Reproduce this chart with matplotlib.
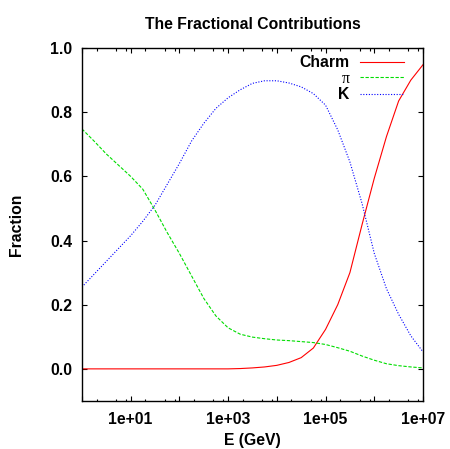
import matplotlib
matplotlib.use('Agg')
import matplotlib.pyplot as plt
from matplotlib.ticker import FixedLocator, FuncFormatter, NullFormatter
import numpy as np

plt.rcParams['font.family'] = ['Liberation Sans', 'DejaVu Sans']
plt.rcParams['font.weight'] = 'bold'
plt.rcParams['font.size'] = 11.3

# log10 of energy in GeV, every quarter decade
log_e = [0.0, 0.25, 0.5, 0.75, 1.0, 1.25, 1.5, 1.75, 2.0, 2.25, 2.5, 2.75, 3.0, 3.25,
         3.5, 3.75, 4.0, 4.25, 4.5, 4.75, 5.0, 5.25, 5.5, 5.75, 6.0, 6.25, 6.5, 6.75, 7.0]

charm = [0.0, 0.0, 0.0, 0.0, 0.0, 0.0, 0.0, 0.0, 0.0, 0.0, 0.0, 0.0, 0.0, 0.001,
         0.003, 0.006, 0.011, 0.02, 0.035, 0.065, 0.123, 0.20, 0.30, 0.45, 0.594, 0.724, 0.835, 0.90, 0.948]
pion = [0.748, 0.71, 0.67, 0.635, 0.60, 0.56, 0.495, 0.425, 0.36, 0.29, 0.22, 0.165, 0.128, 0.108,
        0.099, 0.094, 0.09, 0.088, 0.085, 0.082, 0.076, 0.066, 0.055, 0.04, 0.027, 0.016, 0.01, 0.006, 0.003]
kaon = [0.255, 0.295, 0.335, 0.375, 0.415, 0.46, 0.51, 0.575, 0.64, 0.71, 0.765, 0.812, 0.845, 0.87,
        0.89, 0.898, 0.898, 0.891, 0.879, 0.858, 0.822, 0.745, 0.645, 0.515, 0.36, 0.25, 0.17, 0.103, 0.053]

energy = 10.0 ** np.array(log_e)

fig = plt.figure(figsize=(4.5, 4.49), dpi=100)
ax = fig.add_axes([0.182, 0.107, 0.758, 0.786])

ax.plot(energy, charm, color='#ff0000', lw=0.8, ls='-', label='Charm')
ax.plot(energy, pion, color='#00dd00', lw=0.8, ls=(0, (3, 1.5)), label='π')
ax.plot(energy, kaon, color='#0000ff', lw=0.8, ls=(0, (1, 1.5)), label='K')

ax.set_xscale('log')
ax.set_xlim(1, 1e7)
ax.set_ylim(-0.1, 1.0)

decades = [10.0 ** k for k in range(0, 8)]
ax.xaxis.set_major_locator(FixedLocator(decades))
ax.xaxis.set_major_formatter(FuncFormatter(
    lambda v, p: '%.0e' % v if round(np.log10(v)) % 2 == 1 else ''))
minors = [d * s for d in decades[:-1] for s in (2, 5, 8)]
ax.xaxis.set_minor_locator(FixedLocator(minors))
ax.xaxis.set_minor_formatter(NullFormatter())

ax.set_yticks([0.0, 0.2, 0.4, 0.6, 0.8, 1.0])
ax.yaxis.set_major_formatter(FuncFormatter(lambda v, p: '%.1f' % v))

ax.tick_params(which='both', direction='in', top=True, right=True, width=0.8)
ax.tick_params(which='major', length=3.6)
ax.tick_params(which='minor', length=1.8)
ax.tick_params(axis='x', pad=8)
ax.tick_params(axis='y', pad=7)
for sp in ax.spines.values():
    sp.set_linewidth(1.0)

ax.set_title('The Fractional Contributions', fontsize=11.3, fontweight='bold', pad=14)
ax.set_xlabel('E (GeV)', fontweight='bold', labelpad=4)
ax.set_ylabel('Fraction', fontweight='bold', labelpad=19)

leg = ax.legend(loc='upper right', bbox_to_anchor=(0.943, 0.98), frameon=False,
                markerfirst=False, handlelength=2.8, handletextpad=0.64,
                labelspacing=0.03, borderaxespad=0, borderpad=0)
for t in leg.get_texts():
    t.set_fontweight('bold')
pi_text = leg.get_texts()[1]
pi_text.set_fontweight('normal')
pi_text.set_family(['Liberation Serif', 'DejaVu Serif'])

fig.savefig('out.png', dpi=100)
